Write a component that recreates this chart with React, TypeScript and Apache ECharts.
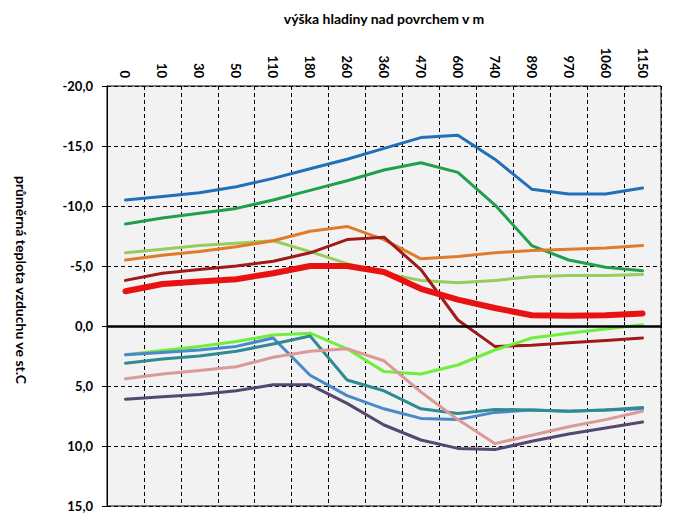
import React, { useEffect, useRef } from "react";
import * as echarts from "echarts";

const categories = ["0", "10", "30", "50", "110", "180", "260", "360", "470", "600", "740", "890", "970", "1060", "1150"];

const seriesBlue = [-10.5, -10.8, -11.1, -11.6, -12.3, -13.1, -13.9, -14.8, -15.7, -15.9, -13.9, -11.4, -11.0, -11.0, -11.5];
const seriesGreen = [-8.5, -9.0, -9.4, -9.8, -10.5, -11.3, -12.1, -13.0, -13.6, -12.8, -10.1, -6.7, -5.5, -4.9, -4.6];
const seriesLightGreen = [-6.1, -6.4, -6.7, -6.9, -7.1, -6.2, -5.2, -4.4, -3.8, -3.6, -3.8, -4.1, -4.2, -4.2, -4.3];
const seriesOrange = [-5.5, -5.9, -6.2, -6.6, -7.1, -7.9, -8.3, -7.2, -5.6, -5.8, -6.1, -6.3, -6.4, -6.5, -6.7];
const seriesDarkRed = [-3.8, -4.4, -4.7, -5.0, -5.4, -6.1, -7.2, -7.4, -4.7, -0.5, 1.7, 1.6, 1.4, 1.2, 1.0];
const seriesRed = [-2.9, -3.5, -3.7, -3.9, -4.4, -5.0, -5.0, -4.5, -3.1, -2.2, -1.5, -0.9, -0.85, -0.9, -1.05];
const seriesBrightGreen = [2.4, 2.05, 1.7, 1.3, 0.75, 0.6, 1.9, 3.8, 4.0, 3.25, 2.0, 1.0, 0.6, 0.25, -0.1];
const seriesSteelBlue = [2.4, 2.2, 2.0, 1.7, 1.0, 4.1, 5.8, 6.9, 7.7, 7.8, 7.2, 7.0, 7.1, 7.0, 6.9];
const seriesTeal = [3.1, 2.75, 2.5, 2.1, 1.5, 0.83, 4.5, 5.4, 6.9, 7.3, 6.95, 7.0, 7.1, 7.0, 6.8];
const seriesPink = [4.4, 4.0, 3.7, 3.4, 2.6, 2.1, 1.9, 2.9, 5.5, 7.8, 9.8, 9.1, 8.4, 7.8, 7.1];
const seriesPurple = [6.1, 5.9, 5.7, 5.4, 4.9, 4.9, 6.45, 8.25, 9.5, 10.2, 10.3, 9.6, 9.0, 8.5, 8.0];

const yTicks = { min: -20, max: 15, interval: 5 };

const xTitle = "výška hladiny nad povrchem v m";
const yTitle = "průměrná teplota vzduchu ve st.C";

const FONT = "Lato, 'Open Sans', sans-serif";

export default function App() {
  const ref = useRef<HTMLDivElement>(null);

  useEffect(() => {
    if (!ref.current) return;
    const chart = echarts.init(ref.current, undefined, { renderer: "svg" });

    const mk = (name: string, data: number[], color: string, width = 3) => ({
      name,
      type: "line",
      data,
      symbol: "none",
      lineStyle: { color, width, cap: "round", join: "round" },
      itemStyle: { color },
    });

    const lines = [
      mk("s1", seriesBlue, "#1f70b8"),
      mk("s2", seriesGreen, "#20a04c"),
      mk("s3", seriesLightGreen, "#98cc5c"),
      mk("s4", seriesOrange, "#e07b2c"),
      mk("s5", seriesDarkRed, "#a01a1a"),
      mk("s6", seriesRed, "#e81212", 6),
      mk("s7", seriesBrightGreen, "#70ee3c"),
      mk("s8", seriesSteelBlue, "#4a88cc"),
      mk("s9", seriesTeal, "#2f8a92"),
      mk("s10", seriesPink, "#d99a98"),
      mk("s11", seriesPurple, "#56476f"),
    ];

    (lines[0] as any).markLine = {
      silent: true,
      symbol: "none",
      label: { show: false },
      lineStyle: { color: "#000", width: 2.5, type: "solid" },
      data: [{ yAxis: 0 }],
    };

    chart.setOption({
      animation: false,
      backgroundColor: "#ffffff",
      grid: {
        left: 107,
        right: 18,
        top: 86,
        bottom: 20,
        show: true,
        backgroundColor: "#f2f2f2",
        borderColor: "#000",
        borderWidth: 1,
      },
      graphic: [
        {
          type: "text",
          x: 384,
          y: 18,
          style: {
            text: xTitle,
            align: "center",
            verticalAlign: "middle",
            font: `bold 14px ${FONT}`,
            fill: "#000",
          },
        },
        {
          type: "text",
          x: 21,
          y: 280,
          rotation: -Math.PI / 2,
          style: {
            text: yTitle,
            align: "center",
            verticalAlign: "middle",
            font: `bold 14px ${FONT}`,
            fill: "#000",
          },
        },
      ],
      xAxis: {
        type: "category",
        position: "top",
        data: categories,
        boundaryGap: true,
        axisLine: { show: true, lineStyle: { color: "#000", width: 1 } },
        axisTick: { show: true, length: 4, lineStyle: { color: "#000" } },
        axisLabel: {
          rotate: -90,
          interval: 0,
          margin: 8,
          color: "#000",
          fontSize: 13,
          fontWeight: "bold",
          fontFamily: FONT,
        },
        splitLine: {
          show: true,
          interval: 0,
          lineStyle: { color: "#000", width: 1, type: [4, 3] },
        },
      },
      yAxis: {
        type: "value",
        inverse: true,
        min: yTicks.min,
        max: yTicks.max,
        interval: yTicks.interval,
        axisLine: { show: true, lineStyle: { color: "#000", width: 1 } },
        axisTick: { show: true, length: 5, lineStyle: { color: "#000" } },
        axisLabel: {
          margin: 14,
          color: "#000",
          fontSize: 13,
          fontWeight: "bold",
          fontFamily: FONT,
          formatter: (v: number) => v.toFixed(1).replace(".", ","),
        },
        splitLine: {
          show: true,
          lineStyle: { color: "#000", width: 1, type: [4, 3] },
        },
      },
      series: lines,
    });

    return () => chart.dispose();
  }, []);

  return (
    <div
      ref={ref}
      style={{ position: "fixed", left: 0, top: 0, width: 679, height: 526 }}
    />
  );
}
